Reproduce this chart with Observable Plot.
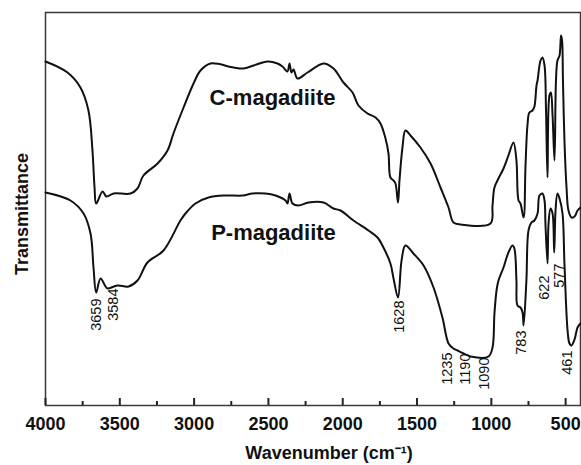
<!DOCTYPE html>
<html><head><meta charset="utf-8">
<script src="https://cdn.jsdelivr.net/npm/d3@7"></script>
<script src="https://cdn.jsdelivr.net/npm/@observablehq/plot@0.6"></script>
<style>html,body{margin:0;padding:0;background:#fff}#chart{width:581px;height:465px}</style>
</head><body><div id="chart"></div>
<script>
const seriesNames = ["C-magadiite", "P-magadiite"];

// C-magadiite (upper trace): wavenumber (cm-1) and transmittance (arbitrary units)
const waveC = [4000,3852,3765,3711,3684,3670,3659,3616,3590,3542,3428,3381,3341,3246,3179,3139,3071,3004,2957,2890,2735,2668,2600,2506,2439,2405,2372,2358,2345,2331,2304,2237,2129,2062,1995,1934,1894,1833,1779,1746,1712,1692,1679,1658,1645,1628,1618,1598,1578,1544,1477,1409,1342,1288,1255,1207,1006,992,979,952,918,885,851,831,817,804,783,770,757,744,723,710,696,689,669,656,642,632,622,609,599,588,575,565,555,541,531,524,518,508,494,481,460,440,420,400];
const transC = [344,333,318,295,255,218,202,214,209,212,212,217,230,242,255,272,298,322,335,342,338,337,340,344,342,339,334,342,333,336,327,333,342,337,323,313,300,292,288,282,267,252,228,225,222,203,225,258,275,270,258,242,218,198,183,181,182,200,218,227,237,250,263,245,205,202,188,240,280,293,295,299,320,325,345,348,340,295,228,310,313,290,245,325,345,350,370,365,325,265,218,195,188,189,195,198];

// P-magadiite (lower trace)
const waveP = [4000,3832,3744,3697,3677,3659,3630,3596,3584,3516,3441,3381,3314,3206,3092,3058,2991,2903,2789,2674,2607,2520,2452,2385,2372,2358,2338,2298,2230,2129,2062,2015,1927,1827,1766,1726,1679,1658,1628,1604,1578,1524,1456,1389,1329,1288,1255,1228,1187,1140,1019,992,979,965,952,918,885,858,845,831,824,804,790,783,764,750,730,710,689,676,656,642,636,622,615,602,588,577,568,555,541,521,508,487,474,461,440,420,400];
const transP = [213,205,192,172,138,113,127,119,117,120,119,125,143,155,185,192,202,208,210,210,212,212,210,205,202,212,202,200,203,203,197,195,185,175,168,158,142,127,108,145,160,152,140,118,88,62,57,55,52,49,49,58,92,115,125,138,153,160,157,125,100,98,93,80,125,175,183,185,192,210,212,205,182,142,182,197,192,153,195,212,207,192,142,75,62,60,66,78,82];

// axis ticks
const majorTicks = [4000,3500,3000,2500,2000,1500,1000,500];
const minorTicks = [3750,3250,2750,2250,1750,1250,750];

// peak annotations
const peakLabels = ["3659","3584","1628","1235","1190","1090","783","622","577","461"];
const peakX = [3657,3542,1618,1295,1174,1046,797,642,541,487];
const peakY = [107,117,105,53,52,48,75,130,142,55];

// series name annotations
const nameX = [2472, 2466];
const nameY = [308, 173];

const rows = [
  ...waveC.map((w, i) => ({series: seriesNames[0], w, t: transC[i]})),
  ...waveP.map((w, i) => ({series: seriesNames[1], w, t: transP[i]}))
];
const peaks = peakLabels.map((label, i) => ({label, x: peakX[i], y: peakY[i]}));
const names = seriesNames.map((name, i) => ({name, x: nameX[i], y: nameY[i]}));

const font = "'Liberation Sans', Arial, Helvetica, sans-serif";
const yMin = 0, yMax = 393;          // transmittance axis (arbitrary units)
const majorLen = 7, minorLen = 4;     // inward tick lengths

const chart = Plot.plot({
  width: 581, height: 465,
  marginLeft: 45, marginRight: 1, marginTop: 12, marginBottom: 60,
  style: {fontFamily: font, background: "#fff", color: "#111"},
  x: {domain: [4000, 400]},
  y: {domain: [yMin, yMax], axis: null},
  marks: [
    Plot.frame({stroke: "#3a3a3a", strokeWidth: 1.5}),
    Plot.axisX({ticks: minorTicks, tickSize: minorLen, dy: -minorLen, tickFormat: () => "", label: null, strokeWidth: 2, stroke: "#222"}),
    Plot.axisX({ticks: majorTicks, tickSize: majorLen, dy: -majorLen, tickFormat: () => "", label: null, strokeWidth: 2, stroke: "#222"}),
    Plot.axisX({ticks: majorTicks, tickSize: 0, tickPadding: 12, tickFormat: d => String(d), label: null, fontSize: 18, fontWeight: "bold", fill: "#111"}),
    Plot.line(rows, {x: "w", y: "t", z: "series", stroke: "#111", strokeWidth: 2, curve: "catmull-rom"}),
    Plot.text(peaks, {x: "x", y: "y", text: "label", rotate: -90, textAnchor: "end", fontSize: 14.5, fill: "#111"}),
    Plot.text(names, {x: "x", y: "y", text: "name", fontSize: 22, fontWeight: "bold", fill: "#111"}),
    Plot.text(["Transmittance"], {frameAnchor: "left", textAnchor: "middle", lineAnchor: "middle", rotate: -90, dx: -23, dy: 5, fontSize: 18, fontWeight: "bold", fill: "#111"}),
    Plot.text(["Wavenumber (cm⁻¹)"], {frameAnchor: "bottom", textAnchor: "middle", lineAnchor: "middle", dx: 16, dy: 48, fontSize: 18, fontWeight: "bold", fill: "#111"})
  ]
});
document.getElementById("chart").appendChild(chart);
</script>
</body></html>
